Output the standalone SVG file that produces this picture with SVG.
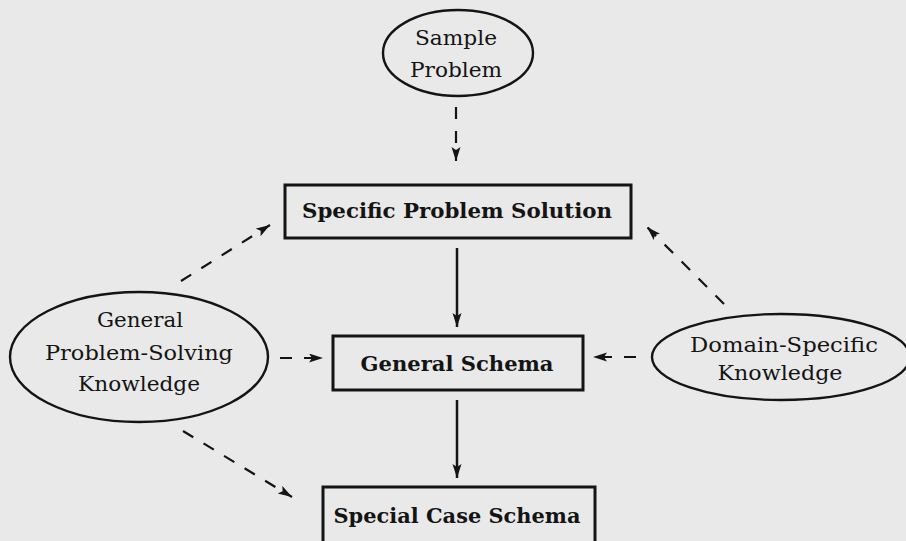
<svg xmlns="http://www.w3.org/2000/svg" width="906" height="541" viewBox="0 0 906 541">
  <defs>
    <style>
      .bg { fill: #e9e9e9; }
      .node { fill: none; stroke: #141414; stroke-width: 2.4; }
      .box { fill: none; stroke: #141414; stroke-width: 3; }
      .t { font-family: "DejaVu Serif", "Liberation Serif", serif; font-size: 20px; fill: #141414; text-anchor: middle; }
      .tb { font-family: "DejaVu Serif", "Liberation Serif", serif; font-size: 20px; font-weight: bold; fill: #141414; text-anchor: middle; }
      .solid { fill: none; stroke: #141414; stroke-width: 2.5; marker-end: url(#ah); }
      .dash { fill: none; stroke: #141414; stroke-width: 2.2; stroke-dasharray: 12 12; marker-end: url(#ah); }
    </style>
    <marker id="ah" markerUnits="userSpaceOnUse" markerWidth="15" markerHeight="10" refX="14" refY="4.5" orient="auto">
      <path d="M0,0 L14,4.5 L0,9 L3,4.5 z" fill="#141414"/>
    </marker>
  </defs>
  <rect class="bg" x="0" y="0" width="906" height="541"/>

  <g id="sample-problem">
    <ellipse class="node" cx="458" cy="53" rx="75" ry="43"/>
    <text class="t" x="456" y="45" textLength="82" lengthAdjust="spacingAndGlyphs">Sample</text>
    <text class="t" x="456" y="77" textLength="92" lengthAdjust="spacingAndGlyphs">Problem</text>
  </g>

  <g id="specific-problem-solution">
    <rect class="box" x="285" y="185" width="346" height="53"/>
    <text class="tb" x="457" y="218" textLength="310" lengthAdjust="spacingAndGlyphs">Specific Problem Solution</text>
  </g>

  <g id="general-schema">
    <rect class="box" x="333" y="336" width="250" height="54"/>
    <text class="tb" x="457" y="371" textLength="193" lengthAdjust="spacingAndGlyphs">General Schema</text>
  </g>

  <g id="special-case-schema">
    <rect class="box" x="323" y="487" width="272" height="60"/>
    <text class="tb" x="457" y="523" textLength="247" lengthAdjust="spacingAndGlyphs">Special Case Schema</text>
  </g>

  <g id="general-problem-solving-knowledge">
    <ellipse class="node" cx="139" cy="357" rx="129" ry="65"/>
    <text class="t" x="140" y="327" textLength="86" lengthAdjust="spacingAndGlyphs">General</text>
    <text class="t" x="139" y="360" textLength="188" lengthAdjust="spacingAndGlyphs">Problem-Solving</text>
    <text class="t" x="139" y="391" textLength="122" lengthAdjust="spacingAndGlyphs">Knowledge</text>
  </g>

  <g id="domain-specific-knowledge">
    <ellipse class="node" cx="781" cy="357" rx="129" ry="43"/>
    <text class="t" x="784" y="352" textLength="188" lengthAdjust="spacingAndGlyphs">Domain-Specific</text>
    <text class="t" x="780" y="380" textLength="125" lengthAdjust="spacingAndGlyphs">Knowledge</text>
  </g>

  <g id="connectors">
    <line class="dash" x1="456" y1="107" x2="456" y2="161"/>
    <line class="solid" x1="457" y1="248" x2="457" y2="327"/>
    <line class="solid" x1="457" y1="400" x2="457" y2="478"/>
    <line class="dash" x1="181" y1="281" x2="270" y2="225"/>
    <line class="dash" x1="280" y1="358" x2="323" y2="358"/>
    <line class="dash" x1="183" y1="431" x2="292" y2="497"/>
    <line class="dash" x1="636" y1="357" x2="593" y2="357"/>
    <line class="dash" x1="724" y1="304" x2="647" y2="227"/>
  </g>
</svg>
